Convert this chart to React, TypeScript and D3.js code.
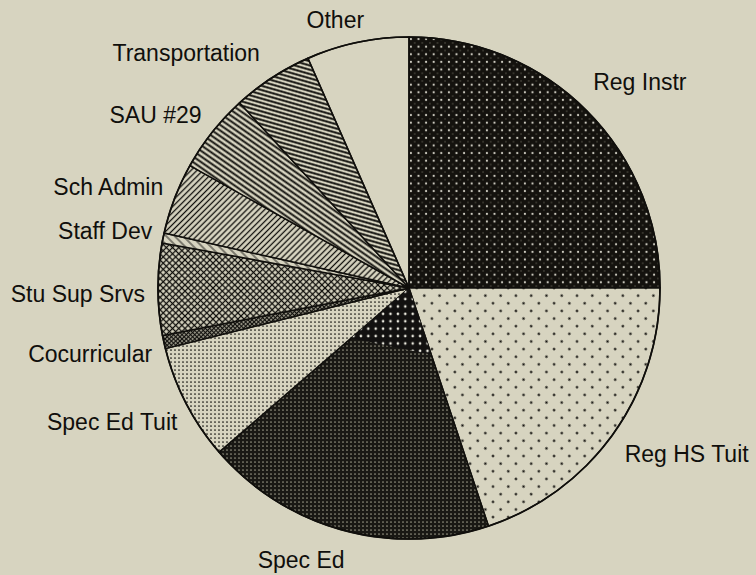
import React from "react";
import * as d3 from "d3";

const categories = [
  "Reg Instr",
  "Reg HS Tuit",
  "Spec Ed",
  "Spec Ed Tuit",
  "Cocurricular",
  "Stu Sup Srvs",
  "Staff Dev",
  "Sch Admin",
  "SAU #29",
  "Transportation",
  "Other",
];
const shares = [25.0, 19.9, 18.8, 7.46, 0.86, 5.9, 0.64, 4.6, 5.1, 5.2, 6.6];

const fills: Record<string, string> = {
  "Reg Instr": "url(#pRegInstr)",
  "Reg HS Tuit": "url(#pRegHS)",
  "Spec Ed": "url(#pSpecEd)",
  "Spec Ed Tuit": "url(#pSpecEdTuit)",
  Cocurricular: "url(#pCocur)",
  "Stu Sup Srvs": "url(#pStuSup)",
  "Staff Dev": "url(#pStaffDev)",
  "Sch Admin": "url(#pSchAdmin)",
  "SAU #29": "url(#pSau)",
  Transportation: "url(#pTransp)",
  Other: "none",
};

const labelNudge: Record<string, [number, number]> = {
  "Reg Instr": [-1, -9],
  "Reg HS Tuit": [3, 3],
  "Spec Ed": [5, 3],
  "Spec Ed Tuit": [1, 6],
  Cocurricular: [-1, 6],
  "Stu Sup Srvs": [-2, 5],
  "Staff Dev": [0, -1],
  "Sch Admin": [-1, -1],
  "SAU #29": [-2, 0],
  Transportation: [-6, -1],
  Other: [9, 5],
};

const W = 756;
const H = 575;
const BG = "#d7d4c0";
const INK = "#100f0c";

function linePattern(id: string, period: number, sw: number, angle: number, color = INK) {
  return (
    <pattern
      id={id}
      patternUnits="userSpaceOnUse"
      width={10}
      height={period}
      patternTransform={`rotate(${angle})`}
    >
      <rect x={0} y={0} width={10} height={period} fill={BG} />
      <rect x={0} y={(period - sw) / 2} width={10} height={sw} fill={color} />
    </pattern>
  );
}

function crossPattern(id: string, period: number, sw: number) {
  return (
    <pattern
      id={id}
      patternUnits="userSpaceOnUse"
      width={period}
      height={period}
      patternTransform="rotate(45)"
    >
      <rect x={0} y={0} width={period} height={period} fill={BG} />
      <rect x={0} y={(period - sw) / 2} width={period} height={sw} fill={INK} />
      <rect x={(period - sw) / 2} y={0} width={sw} height={period} fill={INK} />
    </pattern>
  );
}

export default function App() {
  const cx = 409;
  const cy = 288;
  const r = 251;
  const labelR = 262;

  const pie = d3
    .pie<number>()
    .sort(null)
    .value((d) => d)
    .startAngle(0)
    .endAngle(2 * Math.PI);
  const arcs = pie(shares);
  const arcGen = d3.arc<d3.PieArcDatum<number>>().innerRadius(0).outerRadius(r);

  // small darker patch near the centre of the Spec Ed slice (print moiré)
  const specEdArc = arcs[categories.indexOf("Spec Ed")];
  const pt = (a: number, rr: number): [number, number] => [
    Math.sin(a) * rr,
    -Math.cos(a) * rr,
  ];
  const patch = d3.line()([
    [0, 0],
    pt(specEdArc.startAngle, 70),
    pt(specEdArc.endAngle, 77),
  ]);

  return (
    <svg
      width={W}
      height={H}
      style={{ position: "absolute", left: 0, top: 0 }}
      xmlns="http://www.w3.org/2000/svg"
    >
      <defs>
        <pattern id="pRegInstr" patternUnits="userSpaceOnUse" width={7.6} height={7.6}>
          <rect width={7.6} height={7.6} fill="#14120e" />
          <circle cx={1.9} cy={1.9} r={1.1} fill="#e8e6da" opacity={0.9} />
          <circle cx={5.7} cy={5.7} r={0.9} fill="#8a877a" opacity={0.4} />
        </pattern>
        <pattern
          id="pRegHS"
          patternUnits="userSpaceOnUse"
          width={10.8}
          height={10.8}
          patternTransform="rotate(45)"
        >
          <rect width={10.8} height={10.8} fill={BG} />
          <circle cx={5.4} cy={5.4} r={1.2} fill={INK} />
        </pattern>
        <pattern id="pSpecEd" patternUnits="userSpaceOnUse" width={4} height={4}>
          <rect width={4} height={4} fill="#191814" />
          <circle cx={2} cy={2} r={0.85} fill="#cfcbb5" opacity={0.7} />
        </pattern>
        <pattern id="pSpecEdPatch" patternUnits="userSpaceOnUse" width={7.4} height={7.4}>
          <rect width={7.4} height={7.4} fill="#121110" />
          <circle cx={3.7} cy={3.7} r={1.3} fill="#ecebe0" />
        </pattern>
        <pattern id="pSpecEdTuit" patternUnits="userSpaceOnUse" width={4} height={4}>
          <rect width={4} height={4} fill={BG} />
          <circle cx={2} cy={2} r={0.85} fill={INK} />
        </pattern>
        {crossPattern("pCocur", 3, 1.4)}
        {crossPattern("pStuSup", 4.4, 1.3)}
        {linePattern("pStaffDev", 6, 0.9, 45)}
        {linePattern("pSchAdmin", 4.2, 1.3, -45)}
        {linePattern("pSau", 4.6, 1.9, 35)}
        {linePattern("pTransp", 4.1, 1.9, 16)}
      </defs>
      <rect x={0} y={0} width={W} height={H} fill={BG} />
      <g transform={`translate(${cx},${cy})`}>
        {arcs.map((a, i) => (
          <path
            key={categories[i]}
            d={arcGen(a) || ""}
            fill={fills[categories[i]]}
            stroke={INK}
            strokeWidth={1.5}
            strokeLinejoin="round"
          />
        ))}
        <path d={patch || ""} fill="url(#pSpecEdPatch)" stroke="none" />
        <circle r={r} fill="none" stroke={INK} strokeWidth={1.7} />
        {arcs.map((a, i) => {
          const name = categories[i];
          const mid = (a.startAngle + a.endAngle) / 2;
          const s = Math.sin(mid);
          const c = Math.cos(mid);
          const px = labelR * s;
          const py = -labelR * c;
          const anchor = s > 0.1 ? "start" : s < -0.1 ? "end" : "middle";
          const [nx, ny] = labelNudge[name] || [0, 0];
          return (
            <text
              key={"l" + name}
              x={px + nx}
              y={py + 8 - 17 * c + ny}
              textAnchor={anchor}
              fontFamily="'Liberation Sans', Arial, sans-serif"
              fontSize={23}
              fill={INK}
            >
              {name}
            </text>
          );
        })}
      </g>
    </svg>
  );
}
